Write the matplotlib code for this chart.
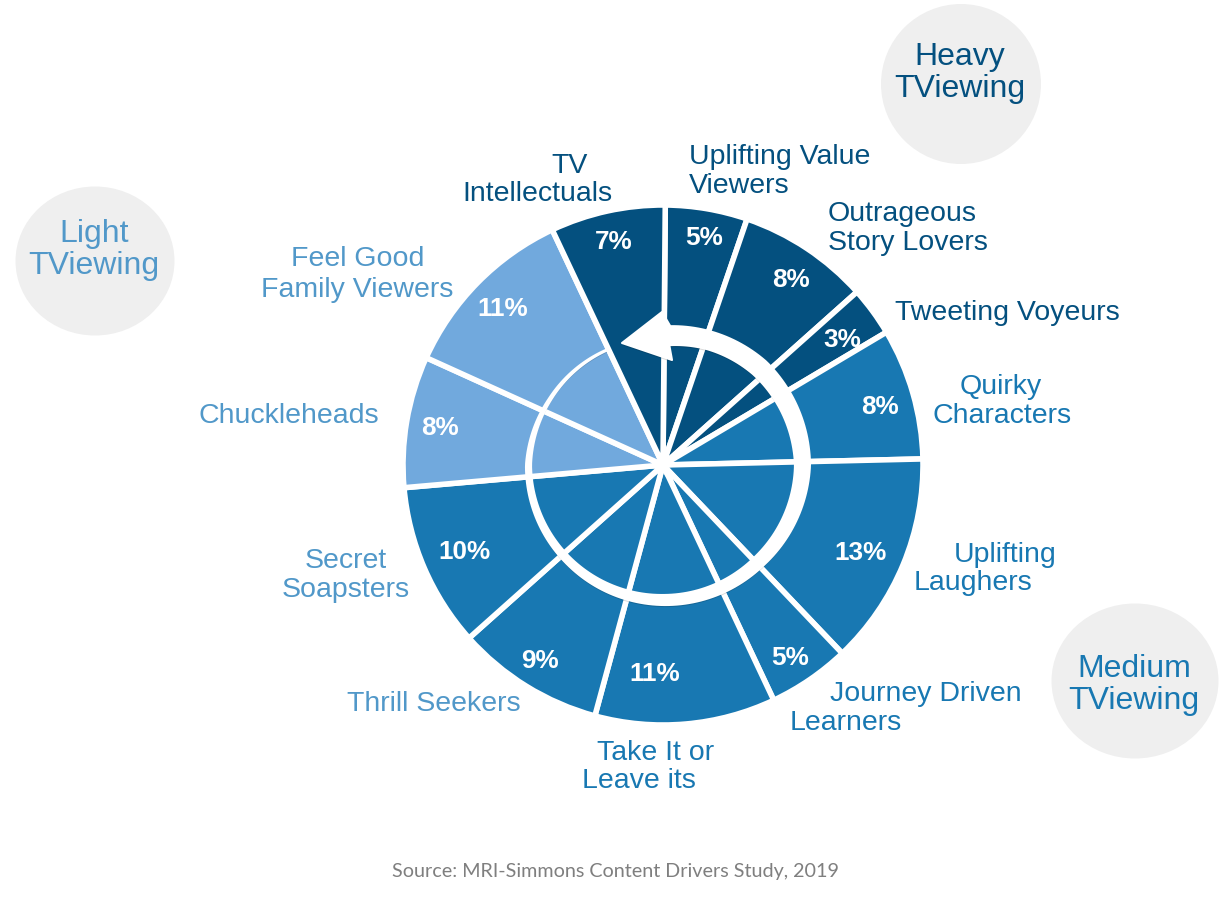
import matplotlib
matplotlib.use("Agg")
import matplotlib.patheffects as pe
import matplotlib.pyplot as plt
import numpy as np
from matplotlib.patches import Ellipse

DARK = "#04507f"
MEDIUM = "#1878b2"
LIGHT = "#71a9dd"
LIGHT_TEXT = "#5198c9"
HEIGHT = 900

# clockwise from 12 o'clock
shares = [5, 8, 3, 8, 13, 5, 11, 9, 10, 8, 11, 7]
colors = [DARK, DARK, DARK, MEDIUM, MEDIUM, MEDIUM, MEDIUM, MEDIUM, MEDIUM, LIGHT, LIGHT, DARK]
share_xy = [(704, 238), (791, 280), (842, 340), (880, 407), (861, 553), (790, 658),
            (655, 674), (540, 661), (465, 552), (440, 428), (503, 309), (614, 242)]

# text, left edge, baseline, colour
labels = [
    ("TV", 551, 173, DARK),
    ("Intellectuals", 462, 201, DARK),
    ("Uplifting Value", 689, 164, DARK),
    ("Viewers", 689, 193, DARK),
    ("Outrageous", 828, 221, DARK),
    ("Story Lovers", 828, 250, DARK),
    ("Tweeting Voyeurs", 895, 320, DARK),
    ("Quirky", 960, 394, MEDIUM),
    ("Characters", 932, 423, MEDIUM),
    ("Uplifting", 954, 562, MEDIUM),
    ("Laughers", 914, 590, MEDIUM),
    ("Journey Driven", 830, 701, MEDIUM),
    ("Learners", 790, 730, MEDIUM),
    ("Take It or", 597, 760, MEDIUM),
    ("Leave its", 582, 788, MEDIUM),
    ("Thrill Seekers", 347, 711, LIGHT_TEXT),
    ("Secret", 305, 568, LIGHT_TEXT),
    ("Soapsters", 282, 597, LIGHT_TEXT),
    ("Chuckleheads", 198, 423, LIGHT_TEXT),
    ("Feel Good", 291, 266, LIGHT_TEXT),
    ("Family Viewers", 261, 297, LIGHT_TEXT),
]

# centre x, centre y, width, height, name, name baseline, colour
groups = [
    (961, 84, 160, 160, "Heavy", 65, DARK),
    (95, 261, 159, 149, "Light", 242, LIGHT_TEXT),
    (1135, 681, 167, 155, "Medium", 677, MEDIUM),
]

# ring: angle clockwise from 12 o'clock, inner and outer radius
ring_angle = [334, 300, 270, 225, 180, 135, 90, 45, 21, 3]
ring_inner = [127.5, 129.5, 132, 131, 130, 130, 132, 128, 124, 120]
ring_outer = [128.5, 132, 137, 138, 140, 142, 147, 146, 142, 139]
arrow_head = [(662, 312), (622, 343), (672, 360)]


def main():
    plt.figure(figsize=(12.28, 9), dpi=100)
    plt.axes([0, 0, 1, 1])

    plt.pie(shares, colors=colors, startangle=89.5, counterclock=False, radius=260,
            center=(663, HEIGHT - 465), wedgeprops={"edgecolor": "white", "linewidth": 4})

    for share, (x, y) in zip(shares, share_xy):
        plt.text(x, HEIGHT - y, f"{share}%", color="white", fontsize=18.8, fontweight="bold",
                 family="Liberation Sans", ha="center", va="center")

    # the thickening white arrow round the middle, smoothed so it draws as an arc
    angle = np.linspace(334, 3, 200)
    inner = np.interp(-angle, -np.array(ring_angle), ring_inner)
    outer = np.interp(-angle, -np.array(ring_angle), ring_outer)
    rad = np.radians(angle)
    outer_x = 663 + outer * np.sin(rad)
    outer_y = 465 - outer * np.cos(rad)
    inner_x = 663 + inner * np.sin(rad)
    inner_y = 465 - inner * np.cos(rad)
    head_x = [p[0] for p in arrow_head]
    head_y = [p[1] for p in arrow_head]
    xs = np.concatenate([outer_x, head_x, inner_x[::-1]])
    ys = np.concatenate([outer_y, head_y, inner_y[::-1]])
    arrow = plt.fill(xs, HEIGHT - ys, facecolor="white", edgecolor="white", linewidth=1.5, joinstyle="round")[0]
    arrow.set_path_effects([pe.withSimplePatchShadow(offset=(0, -1.5), shadow_rgbFace="black", alpha=0.15)])

    for text, x, y, color in labels:
        plt.text(x, HEIGHT - y, text, color=color, fontsize=20.5, family="Liberation Sans",
                 ha="left", va="baseline")

    for x, y, w, h, name, base, color in groups:
        plt.gca().add_patch(Ellipse((x, HEIGHT - y), w, h, facecolor="#efefef", edgecolor="none"))
        plt.text(x - 1, HEIGHT - base, name, color=color, fontsize=23, family="Liberation Sans",
                 ha="center", va="baseline")
        plt.text(x - 1, HEIGHT - base - 32, "TViewing", color=color, fontsize=23, family="Liberation Sans",
                 ha="center", va="baseline")

    plt.text(615, HEIGHT - 872, "Source: MRI-Simmons Content Drivers Study, 2019", color="#7f7f7f",
             fontsize=14.2, family="Lato", ha="center", va="center")

    plt.xlim(0, 1228)
    plt.ylim(0, HEIGHT)
    plt.savefig("out.png", dpi=100)


if __name__ == "__main__":
    main()
